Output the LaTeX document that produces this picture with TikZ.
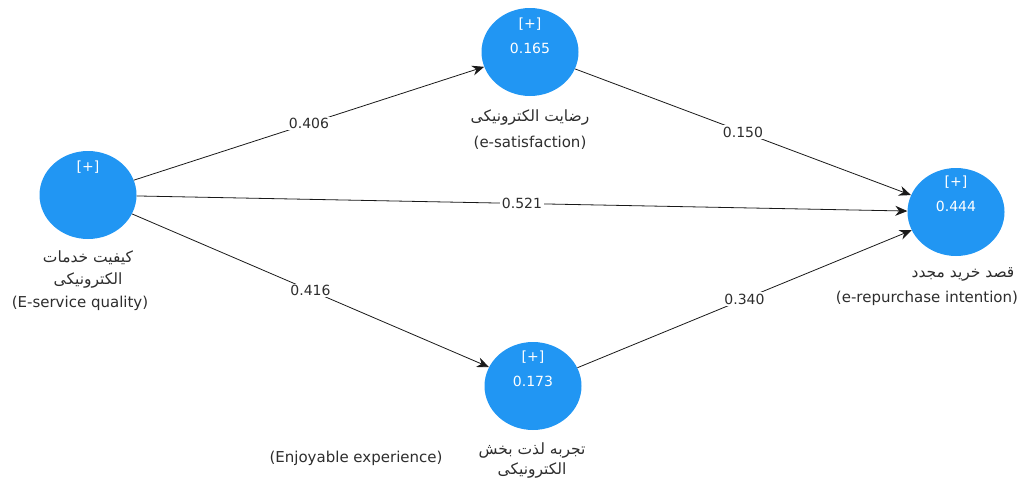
\documentclass[tikz,border=0pt]{standalone}
\usepackage{fontspec}
\setmainfont{DejaVu Sans}
\newfontfamily\farsi[Script=Arabic]{DejaVu Sans}
\TeXXeTstate=1
\usetikzlibrary{arrows.meta,shapes.geometric}
\definecolor{lvblue}{RGB}{33,150,243}
\definecolor{lbltext}{RGB}{45,45,45}

\begin{document}
\begin{tikzpicture}[x=1pt,y=-1pt,
	latent/.style={ellipse,fill=lvblue,minimum width=97pt,minimum height=88pt,inner sep=0pt},
	inside/.style={text=white,font=\fontsize{14}{16}\selectfont},
	caption/.style={text=lbltext,font=\fontsize{15}{17}\selectfont,inner sep=0pt},
	fcaption/.style={text=lbltext,font=\farsi\fontsize{15.5}{17}\selectfont,inner sep=0pt},
	relpath/.style={draw=black!90,line width=0.8pt,-{Stealth[length=12pt,width=10pt]}},
	coef/.style={fill=white,inner sep=1.5pt,text=lbltext,font=\fontsize{14}{16}\selectfont}]
	\useasboundingbox (0,0) rectangle (1022,479);
	% latent variables
	\node[latent] (esq) at (88,195) {};
	\node[latent] (esat) at (530,52) {};
	\node[latent] (erep) at (956,212) {};
	\node[latent] (enj) at (533,386) {};
	\node[inside] (esqplus) at (88,167) {[+]};
	\node[inside] (esatplus) at (530,24) {[+]};
	\node[inside] (esatval) at (530,48) {0.165};
	\node[inside] (erepplus) at (956,182) {[+]};
	\node[inside] (erepval) at (956,206) {0.444};
	\node[inside] (enjplus) at (533,357) {[+]};
	\node[inside] (enjval) at (533,381) {0.173};
	% captions
	\node[fcaption] (esqfa1) at (88,258) {\beginR کیفیت خدمات\endR};
	\node[fcaption] (esqfa2) at (88,280) {\beginR الکترونیکی\endR};
	\node[caption] (esqen) at (80,303) {(E-service quality)};
	\node[fcaption] (esatfa) at (530,118) {\beginR رضایت الکترونیکی\endR};
	\node[caption] (esaten) at (530,143) {(e-satisfaction)};
	\node[fcaption] (erepfa) at (963,274) {\beginR قصد خرید مجدد\endR};
	\node[caption] (erepen) at (927,298) {(e-repurchase intention)};
	\node[fcaption] (enjfa1) at (532,450) {\beginR تجربه لذت بخش\endR};
	\node[fcaption] (enjfa2) at (532,470) {\beginR الکترونیکی\endR};
	\node[caption] (enjen) at (356,458) {(Enjoyable experience)};
	% paths
	\draw[relpath] (esq) -- node[coef] {0.406} (esat);
	\draw[relpath] (esq) -- node[coef] {0.521} (erep);
	\draw[relpath] (esq) -- node[coef] {0.416} (enj);
	\draw[relpath] (esat) -- node[coef] {0.150} (erep);
	\draw[relpath] (enj) -- node[coef] {0.340} (erep);
\end{tikzpicture}
\end{document}
